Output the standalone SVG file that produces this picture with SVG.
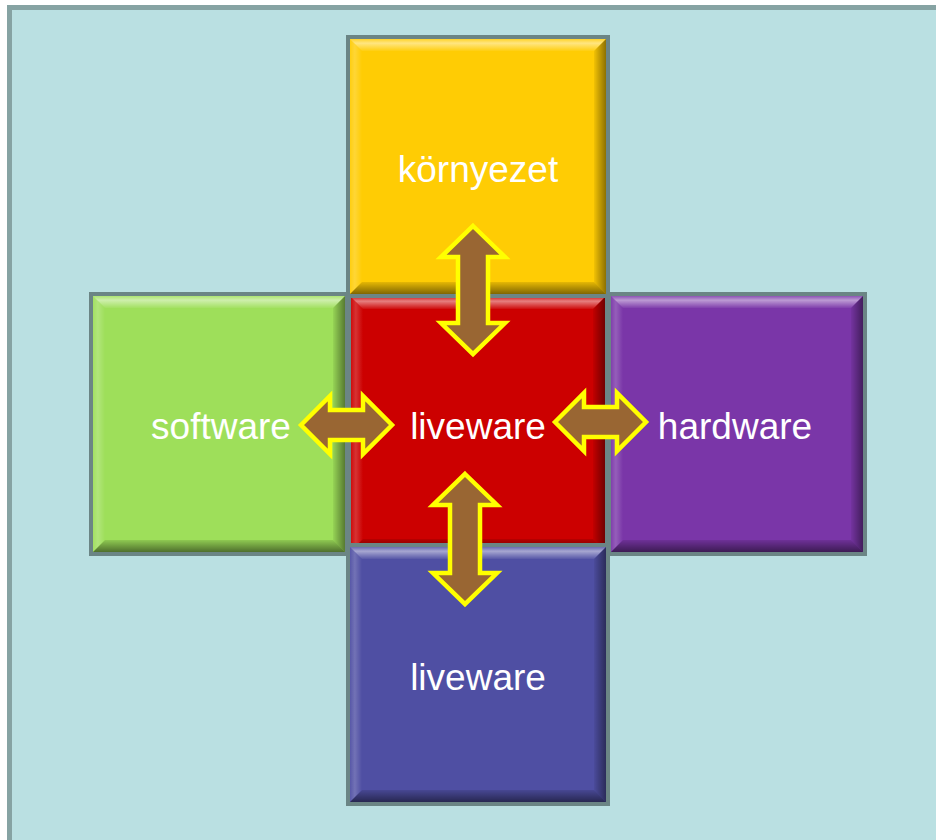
<svg xmlns="http://www.w3.org/2000/svg" width="936" height="840" viewBox="0 0 936 840">
<defs>
<linearGradient id="gTop" x1="0" y1="0" x2="0" y2="1">
<stop offset="0" stop-color="#FFFFFF" stop-opacity="0.15"/>
<stop offset="0.35" stop-color="#FFFFFF" stop-opacity="0.5"/>
<stop offset="1" stop-color="#FFFFFF" stop-opacity="0.05"/>
</linearGradient>
<linearGradient id="gLeft" x1="0" y1="0" x2="1" y2="0">
<stop offset="0" stop-color="#FFFFFF" stop-opacity="0.05"/>
<stop offset="0.4" stop-color="#FFFFFF" stop-opacity="0.2"/>
<stop offset="1" stop-color="#FFFFFF" stop-opacity="0"/>
</linearGradient>
<linearGradient id="gRight" x1="0" y1="0" x2="1" y2="0">
<stop offset="0" stop-color="#000000" stop-opacity="0.05"/>
<stop offset="1" stop-color="#000000" stop-opacity="0.45"/>
</linearGradient>
<linearGradient id="gBottom" x1="0" y1="0" x2="0" y2="1">
<stop offset="0" stop-color="#000000" stop-opacity="0.1"/>
<stop offset="1" stop-color="#000000" stop-opacity="0.5"/>
</linearGradient>
</defs>
<style>
.frame{fill:#6B8585}
.hl{fill:url(#gTop)}
.hl2{fill:url(#gLeft)}
.sh{fill:url(#gRight)}
.sh2{fill:url(#gBottom)}
.lbl{font-family:"Liberation Sans",Arial,sans-serif;font-size:37px;fill:#FFFFFF;text-anchor:middle}
.arrow{fill:#996633;stroke:#FFFF00;stroke-width:4.5;stroke-linejoin:miter}
</style>
<rect x="0" y="0" width="936" height="840" fill="#FFFFFF"/>
<rect x="9.5" y="7.5" width="940" height="850" fill="#BAE0E2" stroke="#86A3A3" stroke-width="5"/>

<g id="node-center">
<rect class="frame" x="347" y="293" width="262" height="262"/>
<rect x="351" y="297" width="254" height="254" fill="#CC0000"/>
<polygon class="hl" points="351,297 605,297 593,309 363,309"/>
<polygon class="hl2" points="351,297 363,309 363,539 351,551"/>
<polygon class="sh" points="605,297 605,551 593,539 593,309"/>
<polygon class="sh2" points="351,551 605,551 593,539 363,539"/>
<text class="lbl" x="478" y="439">liveware</text>
</g>

<g id="node-software">
<rect class="frame" x="89" y="292" width="260" height="264"/>
<rect x="93" y="296" width="252" height="256" fill="#9EDF5A"/>
<polygon class="hl" points="93,296 345,296 333,308 105,308"/>
<polygon class="hl2" points="93,296 105,308 105,540 93,552"/>
<polygon class="sh" points="345,296 345,552 333,540 333,308"/>
<polygon class="sh2" points="93,552 345,552 333,540 105,540"/>
<text class="lbl" x="221" y="439">software</text>
</g>

<g id="node-hardware">
<rect class="frame" x="607" y="292" width="260" height="264"/>
<rect x="611" y="296" width="252" height="256" fill="#7A36A8"/>
<polygon class="hl" points="611,296 863,296 851,308 623,308"/>
<polygon class="hl2" points="611,296 623,308 623,540 611,552"/>
<polygon class="sh" points="863,296 863,552 851,540 851,308"/>
<polygon class="sh2" points="611,552 863,552 851,540 623,540"/>
<text class="lbl" x="735" y="439">hardware</text>
</g>

<g id="node-kornyezet">
<rect class="frame" x="346" y="35" width="264" height="263"/>
<rect x="350" y="39" width="256" height="255" fill="#FFCC04"/>
<polygon class="hl" points="350,39 606,39 594,51 362,51"/>
<polygon class="hl2" points="350,39 362,51 362,282 350,294"/>
<polygon class="sh" points="606,39 606,294 594,282 594,51"/>
<polygon class="sh2" points="350,294 606,294 594,282 362,282"/>
<text class="lbl" x="478" y="182">környezet</text>
</g>

<g id="node-liveware-bottom">
<rect class="frame" x="346" y="543" width="264" height="263"/>
<rect x="350" y="547" width="256" height="255" fill="#4F4FA3"/>
<polygon class="hl" points="350,547 606,547 594,559 362,559"/>
<polygon class="hl2" points="350,547 362,559 362,790 350,802"/>
<polygon class="sh" points="606,547 606,802 594,790 594,559"/>
<polygon class="sh2" points="350,802 606,802 594,790 362,790"/>
<text class="lbl" x="478" y="690">liveware</text>
</g>

<g id="connectors">
<path class="arrow" d="M473,226 L505,257 L488,257 L488,323 L505,323 L473,354 L441,323 L458,323 L458,257 L441,257 Z"/>
<path class="arrow" d="M465,474 L497,505 L480,505 L480,573 L497,573 L465,604 L433,573 L450,573 L450,505 L433,505 Z"/>
<path class="arrow" d="M301,425 L330,396 L330,410 L363,410 L363,396 L392,425 L363,454 L363,440 L330,440 L330,454 Z"/>
<path class="arrow" d="M555,422 L584,393 L584,407 L617,407 L617,393 L646,422 L617,451 L617,437 L584,437 L584,451 Z"/>
</g>
</svg>
